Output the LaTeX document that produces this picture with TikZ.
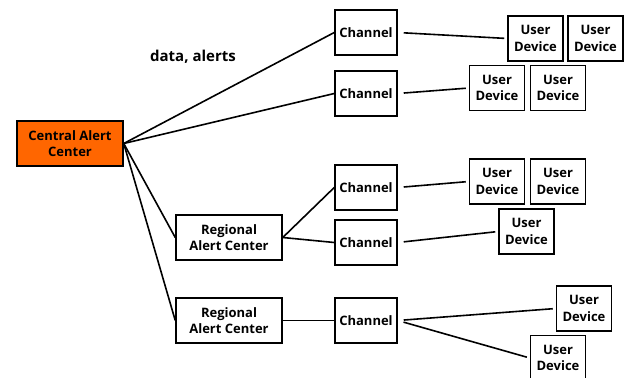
\documentclass[tikz,border=0pt]{standalone}
\usepackage{fontspec}
\setmainfont{Open Sans}
\definecolor{alertorange}{RGB}{255,102,0}
\tikzset{
  box/.style={draw, line width=1.5pt, align=center, inner sep=0pt,
    font=\bfseries\fontsize{13}{16.5}\selectfont},
  central/.style={box, fill=alertorange, minimum width=106pt, minimum height=45pt},
  regional/.style={box, minimum width=106pt, minimum height=45pt},
  channel/.style={box, minimum width=62pt, minimum height=45pt},
  device/.style={box, minimum width=55pt, minimum height=45pt},
  link/.style={line width=1.6pt},
  gap/.style={link, shorten <=6pt, shorten >=3pt}
}
\begin{document}
\begin{tikzpicture}[x=1pt,y=-1pt]
  \useasboundingbox (0,0) rectangle (630,378);
  \draw
    (70,143.5) node[central] (cac){Central Alert\\Center}
    (229,237.5) node[regional] (rac1){Regional\\Alert Center}
    (229,320.5) node[regional] (rac2){Regional\\Alert Center}
    (366,32.5) node[channel] (ch1){Channel}
    (366,93.5) node[channel] (ch2){Channel}
    (366,187.5) node[channel] (ch3){Channel}
    (366,242.5) node[channel] (ch4){Channel}
    (366,320.5) node[channel] (ch5){Channel}
    (535.5,38.5) node[device] (ud1){User\\Device}
    (595.5,38.5) node[device] (ud2){User\\Device}
    (497,88) node[device] (ud3){User\\Device}
    (558,88) node[device] (ud4){User\\Device}
    (497,181.5) node[device] (ud5){User\\Device}
    (558,181.5) node[device] (ud6){User\\Device}
    (526.5,231.5) node[device] (ud7){User\\Device}
    (584,308.5) node[device] (ud8){User\\Device}
    (558,358) node[device] (ud9){User\\Device};
  \node[font=\bfseries\fontsize{15}{18}\selectfont] (lbl) at (193,57) {data, alerts};
  \begin{scope}[link]
    \draw (cac.east) to (ch1.west);
    \draw (cac.east) to (ch2.west);
    \draw (cac.east) to (rac1.west);
    \draw (cac.east) to (rac2.west);
    \draw (rac1.east) to (ch3.west);
    \draw (rac1.east) to (ch4.west);
    \draw (rac2.east) to (ch5.west);
  \end{scope}
  \begin{scope}[gap]
    \draw (ch1.east) to (ud1.west);
    \draw (ch2.east) to (ud3.west);
    \draw (ch3.east) to (ud5.west);
    \draw (ch4.east) to (ud7.west);
    \draw (ch5.east) to (ud8.west);
    \draw (ch5.east) to (ud9.west);
  \end{scope}
\end{tikzpicture}
\end{document}
